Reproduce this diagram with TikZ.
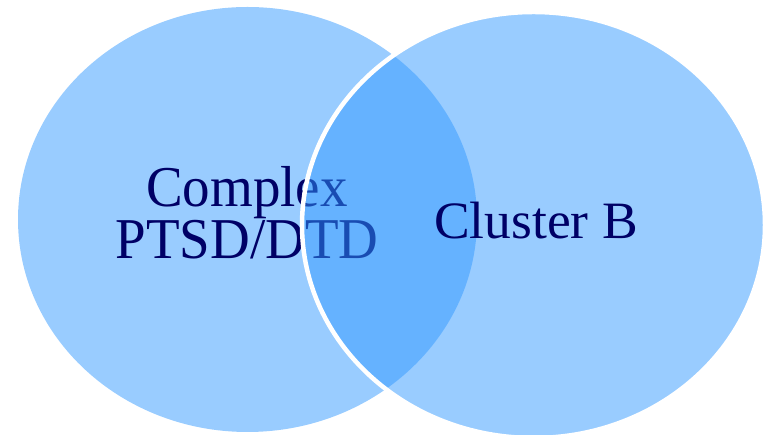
\documentclass[tikz,border=0pt]{standalone}
\usepackage{fontspec}
\setmainfont{Liberation Serif}
\definecolor{setfill}{HTML}{99CCFF}
\definecolor{overfill}{HTML}{3399FF}
\definecolor{labelnavy}{HTML}{000066}
\begin{document}
\begin{tikzpicture}[x=1pt,y=1pt,
  setlabel/.style={text=labelnavy,inner sep=0pt,align=center}]
\useasboundingbox (0,0) rectangle (765,435);
% left set
\fill[setfill] (247.5,215.5) ellipse [x radius=229.5, y radius=212.5];
\node[setlabel,font=\fontsize{55}{50}\selectfont,anchor=base,yscale=1.05] (ptsd) at (247,176) {Complex\\PTSD/DTD};
% right set, translucent so the overlap darkens
\draw[fill opacity=0.5,draw=white,line width=4.5pt,fill=overfill] (533.5,210) ellipse [x radius=231.5, y radius=213];
\node[setlabel,font=\fontsize{50}{50}\selectfont,anchor=base,xscale=1.07,yscale=1.05] (clb) at (536,196) {Cluster B};
\end{tikzpicture}
\end{document}
